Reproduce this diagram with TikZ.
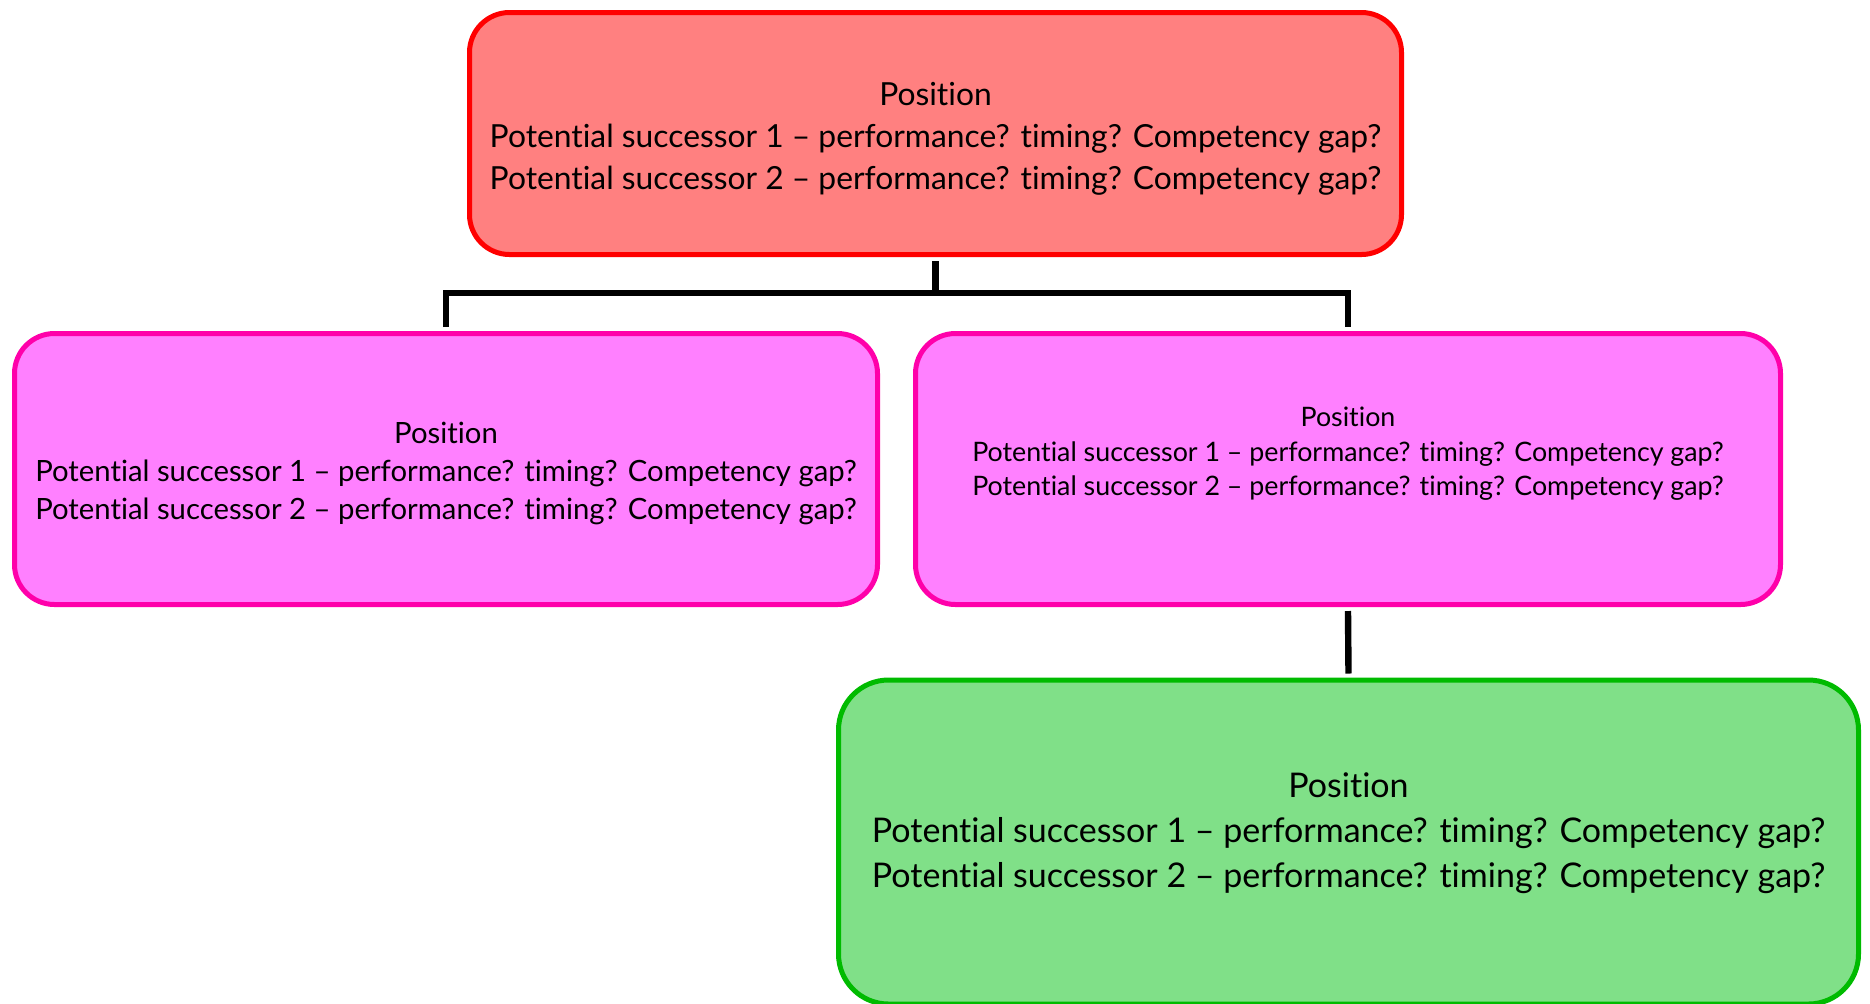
\documentclass[tikz,border=0pt]{standalone}
\usepackage{fontspec}
\setmainfont{Lato}[Ligatures={TeX,NoCommon}]
\usetikzlibrary{positioning}

\definecolor{topfill}{RGB}{255,128,128}
\definecolor{topline}{RGB}{255,0,0}
\definecolor{midfill}{RGB}{255,128,255}
\definecolor{midline}{RGB}{255,0,170}
\definecolor{lowfill}{RGB}{128,224,136}
\definecolor{lowline}{RGB}{0,187,0}

\newcommand{\successorlines}{Position\\Potential successor 1 -- performance? timing? Competency gap?\\Potential successor 2 -- performance? timing? Competency gap?}

\tikzset{
	posbox/.style={draw, line width=2.5pt, rounded corners=20pt, inner sep=0pt},
	postext/.style={align=center, inner sep=0pt},
	link/.style={line width=3.2pt},
}

\begin{document}
\begin{tikzpicture}[x=0.5pt,y=-0.5pt]
		\useasboundingbox (0,0) rectangle (1870,1003);
		% boxes
		\node[posbox, draw=topline, fill=topfill, minimum width=466pt, minimum height=121pt] (top) at (935.5,133.5) {};
		\node[posbox, draw=midline, fill=midfill, minimum width=431.5pt, minimum height=135.5pt] (left) at (446,469) {};
		\node[posbox, draw=midline, fill=midfill, minimum width=432.5pt, minimum height=135.5pt] (right) at (1348,469) {};
		\node[posbox, draw=lowline, fill=lowfill, rounded corners=25pt, minimum width=510pt, minimum height=162pt] (low) at (1348.5,842) {};
		% texts
		\node[postext, font=\fontsize{15.9}{21}\selectfont] (toptext) at (935.5,139) {\successorlines};
		\node[postext, font=\fontsize{14.65}{19}\selectfont] (lefttext) at (446,473) {\successorlines};
		\node[postext, font=\fontsize{13.4}{17.3}\selectfont] (righttext) at (1348,454) {\successorlines};
		\node[postext, font=\fontsize{17}{22.5}\selectfont] (lowtext) at (1348.5,833) {\successorlines};
		% connectors
		\coordinate (fork) at (935.5,293);
		\draw[link] ([yshift=-2pt]top.south) -- (fork);
		\draw[link] ([yshift=2pt]left.north) |- (fork) -| ([yshift=2pt]right.north);
		\draw[link] ([yshift=-2pt]right.south) -- ([yshift=2pt]low.north);
\end{tikzpicture}
\end{document}
